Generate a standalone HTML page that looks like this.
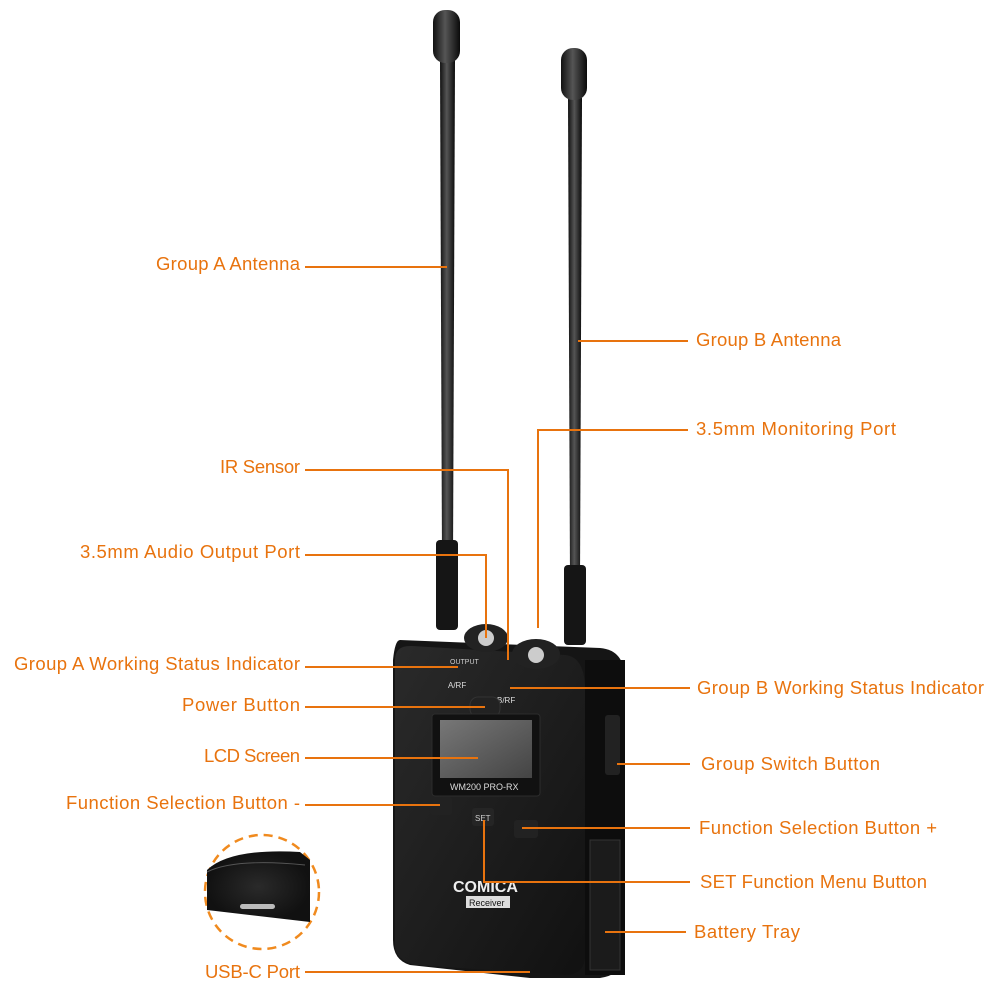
<!DOCTYPE html>
<html><head><meta charset="utf-8"><style>
html,body{margin:0;padding:0;background:#fff;}
svg{display:block}
text{font-family:"Liberation Sans",sans-serif;font-size:18.5px;fill:#e8730e;}
</style></head><body>
<svg width="1000" height="1000" viewBox="0 0 1000 1000" xmlns="http://www.w3.org/2000/svg">
<defs>
<linearGradient id="rod" x1="0" x2="1"><stop offset="0" stop-color="#111"/><stop offset="0.45" stop-color="#555"/><stop offset="1" stop-color="#0a0a0a"/></linearGradient>
<linearGradient id="face" x1="0" y1="0" x2="1" y2="1"><stop offset="0" stop-color="#2a2a2a"/><stop offset="1" stop-color="#111"/></linearGradient>
<linearGradient id="lcd" x1="0" y1="0" x2="1" y2="1"><stop offset="0" stop-color="#777"/><stop offset="1" stop-color="#444"/></linearGradient>
<radialGradient id="circ"><stop offset="0" stop-color="#2a2a2a"/><stop offset="1" stop-color="#111"/></radialGradient>
</defs>
<path d="M440 60 L455 60 L453 560 L442 560 Z" fill="url(#rod)"/>
<rect x="433" y="10" width="27" height="53" rx="12" fill="url(#rod)"/>
<rect x="436" y="540" width="22" height="90" rx="4" fill="#151515"/>
<path d="M568 98 L582 98 L580 580 L570 580 Z" fill="url(#rod)"/>
<rect x="561" y="48" width="26" height="52" rx="12" fill="url(#rod)"/>
<rect x="564" y="565" width="22" height="80" rx="4" fill="#151515"/>
<path d="M400 640 L600 648 Q625 650 625 680 L625 960 Q620 975 600 978 L530 978 L410 965 Q393 960 393 940 L393 660 Q395 640 400 640 Z" fill="#151515"/>
<path d="M395 660 Q395 645 412 646 L565 655 Q585 657 585 690 L585 955 Q585 975 565 975 L415 965 Q395 960 395 945 Z" fill="url(#face)"/>
<rect x="585" y="660" width="40" height="315" fill="#0d0d0d"/>
<rect x="590" y="840" width="30" height="130" fill="#1b1b1b" stroke="#333"/>
<rect x="605" y="715" width="15" height="60" rx="3" fill="#222"/>
<ellipse cx="486" cy="638" rx="22" ry="14" fill="#222"/><circle cx="486" cy="638" r="8" fill="#ccc"/>
<ellipse cx="536" cy="654" rx="24" ry="15" fill="#222"/><circle cx="536" cy="655" r="8" fill="#ccc"/>
<text x="450" y="664" style="font-size:7px;fill:#ccc">OUTPUT</text>
<text x="448" y="688" style="font-size:8px;fill:#ddd">A/RF</text>
<text x="497" y="703" style="font-size:8px;fill:#ddd">B/RF</text>
<rect x="470" y="697" width="30" height="20" rx="8" fill="#222" stroke="#333"/>
<rect x="432" y="714" width="108" height="82" rx="3" fill="#111" stroke="#2c2c2c"/>
<rect x="440" y="720" width="92" height="58" fill="url(#lcd)"/>
<text x="450" y="790" style="font-size:9px;fill:#ddd">WM200 PRO-RX</text>
<rect x="430" y="797" width="22" height="18" rx="3" fill="#222"/>
<rect x="472" y="808" width="22" height="18" rx="3" fill="#252525"/>
<text x="475" y="821" style="font-size:8px;fill:#ccc">SET</text>
<rect x="514" y="820" width="24" height="18" rx="3" fill="#222"/>
<text x="453" y="892" style="font-size:16px;font-weight:bold;fill:#eee">COMICA</text>
<rect x="466" y="896" width="44" height="12" fill="#ddd"/>
<text x="469" y="906" style="font-size:9px;fill:#111">Receiver</text>
<circle cx="262" cy="892" r="57" fill="#fff" stroke="#f08a1e" stroke-width="2.5" stroke-dasharray="9 6"/>
<path d="M207 870 Q230 848 300 852 L310 860 L310 922 L207 910 Z" fill="url(#circ)"/>
<path d="M207 872 Q235 858 305 865" stroke="#555" stroke-width="1" fill="none"/>
<rect x="240" y="904" width="35" height="5" rx="2.5" fill="#bbb"/>
<g stroke="#e8730e" stroke-width="2" fill="none">
<path d="M305 267 H447"/>
<path d="M578 341 H688"/>
<path d="M688 430 H538 V628"/>
<path d="M305 470 H508 V660"/>
<path d="M305 555 H486 V638"/>
<path d="M305 667 H458"/>
<path d="M305 707 H485"/>
<path d="M305 758 H478"/>
<path d="M305 805 H440"/>
<path d="M510 688 H690"/>
<path d="M617 764 H690"/>
<path d="M522 828 H690"/>
<path d="M484 820 V882 H690"/>
<path d="M605 932 H686"/>
<path d="M305 972 H530"/>
</g>
<g text-anchor="end">
<text x="300" y="270" textLength="144">Group A Antenna</text>
<text x="300" y="473" textLength="80">IR Sensor</text>
<text x="300" y="558" textLength="220">3.5mm Audio Output Port</text>
<text x="300" y="670" textLength="286">Group A Working Status Indicator</text>
<text x="300" y="711" textLength="118">Power Button</text>
<text x="300" y="762" textLength="96">LCD Screen</text>
<text x="300" y="809" textLength="234">Function Selection Button -</text>
<text x="300" y="978" textLength="95">USB-C Port</text>
</g>
<text x="696" y="346" textLength="145">Group B Antenna</text>
<text x="696" y="435" textLength="200">3.5mm Monitoring Port</text>
<text x="697" y="694" textLength="287">Group B Working Status Indicator</text>
<text x="701" y="770" textLength="179">Group Switch Button</text>
<text x="699" y="834" textLength="238">Function Selection Button +</text>
<text x="700" y="888" textLength="227">SET Function Menu Button</text>
<text x="694" y="938" textLength="106">Battery Tray</text>
</svg>
</body></html>
